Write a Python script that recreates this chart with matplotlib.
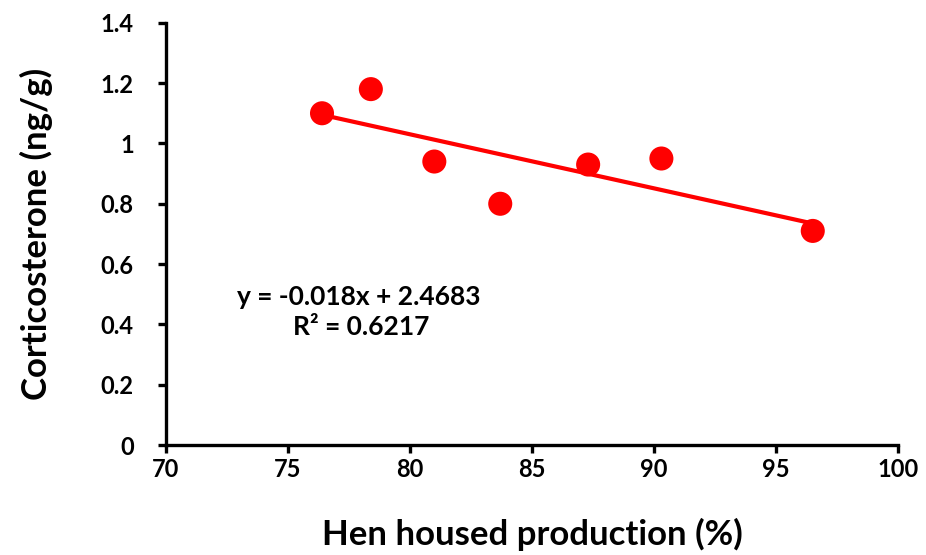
import numpy as np
import matplotlib
matplotlib.use('Agg')
import matplotlib.pyplot as plt

# values
production = [76.4, 78.4, 81.0, 83.7, 87.3, 90.3, 96.5]
corticosterone = [1.10, 1.18, 0.94, 0.80, 0.93, 0.95, 0.71]

x_ticks = [70, 75, 80, 85, 90, 95, 100]
y_ticks = [0, 0.2, 0.4, 0.6, 0.8, 1.0, 1.2, 1.4]
y_tick_labels = ['0', '0.2', '0.4', '0.6', '0.8', '1', '1.2', '1.4']

slope = -0.018
intercept = 2.4683
r_squared = 0.6217

plt.rcParams['font.family'] = ['Lato', 'DejaVu Sans']
plt.rcParams['font.weight'] = 'bold'

fig = plt.figure(figsize=(9.26, 5.55), dpi=100)
ax = fig.add_axes([0.179, 0.198, 0.791, 0.761])

# trend line over the data range
fit = np.polyfit(production, corticosterone, 1)
xs = np.array([min(production), max(production)])
ax.plot(xs, np.polyval(fit, xs), color='#ff0000', lw=3, zorder=2)
ax.scatter(production, corticosterone, s=300, color='#ff0000',
           edgecolors='none', zorder=3)

ax.set_xlim(70, 100)
ax.set_ylim(0, 1.4)
ax.set_xticks(x_ticks)
ax.set_yticks(y_ticks)
ax.set_yticklabels(y_tick_labels)

for side in ['top', 'right']:
    ax.spines[side].set_visible(False)
for side in ['left', 'bottom']:
    ax.spines[side].set_linewidth(2.4)
ax.tick_params(direction='out', length=6, width=2.4, labelsize=17)
ax.tick_params(axis='x', pad=3)
ax.tick_params(axis='y', pad=17)

ax.set_xlabel('Hen housed production (%)', fontsize=25, fontweight='bold',
              labelpad=27)
ax.set_ylabel('Corticosterone (ng/g)', fontsize=25, fontweight='bold',
              labelpad=34)

ax.text(77.9, 0.49, 'y = -0.018x + 2.4683', fontsize=19, fontweight='bold',
        ha='center', va='center')
ax.text(78.0, 0.39, 'R² = {}'.format(r_squared), fontsize=19,
        fontweight='bold', ha='center', va='center')

fig.savefig('out.png', dpi=100)
